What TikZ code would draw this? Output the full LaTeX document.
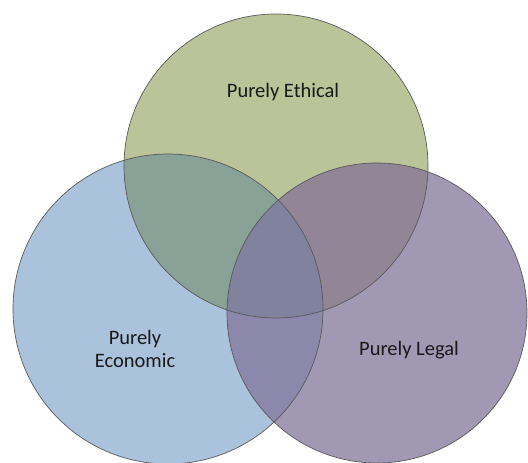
\documentclass[tikz,border=0pt]{standalone}
\usepackage{fontspec}
\setmainfont{Carlito}
\definecolor{ethgreen}{RGB}{186,196,152}
\definecolor{ecoblue}{RGB}{171,194,220}
\definecolor{legpurple}{RGB}{161,152,179}
\definecolor{ethblue}{RGB}{136,162,152}
\definecolor{ethpurple}{RGB}{146,134,150}
\definecolor{ecopurple}{RGB}{140,136,172}
\definecolor{allthree}{RGB}{128,130,158}

\begin{document}
\begin{tikzpicture}[x=1pt,y=1pt,
  ring/.style={draw=black!65, line width=0.7pt},
  lbl/.style={font=\fontsize{20.5}{23}\selectfont, align=center, text=black!90}]
\useasboundingbox (0,0) rectangle (528,463);
\coordinate (E) at (276,297);
\coordinate (C) at (168,154);
\coordinate (L) at (377,150);
% plain circles
\fill[ethgreen] (E) circle (152);
\fill[ecoblue] (C) circle (155);
\fill[legpurple] (L) circle (150);
% overlaps
\begin{scope}
\clip (C) circle (155);
\fill[ecopurple] (L) circle (150);
\end{scope}
\begin{scope}
\clip (E) circle (152);
\fill[ethblue] (C) circle (155);
\fill[ethpurple] (L) circle (150);
\clip (C) circle (155);
\fill[allthree] (L) circle (150);
\end{scope}
% outlines
\draw[ring] (E) circle (152);
\draw[ring] (C) circle (155);
\draw[ring] (L) circle (150);
\node[lbl] (eth) at (283,371) {Purely Ethical};
\node[lbl] (eco) at (135,114) {Purely\\Economic};
\node[lbl] (leg) at (409,113) {Purely Legal};
\end{tikzpicture}
\end{document}
